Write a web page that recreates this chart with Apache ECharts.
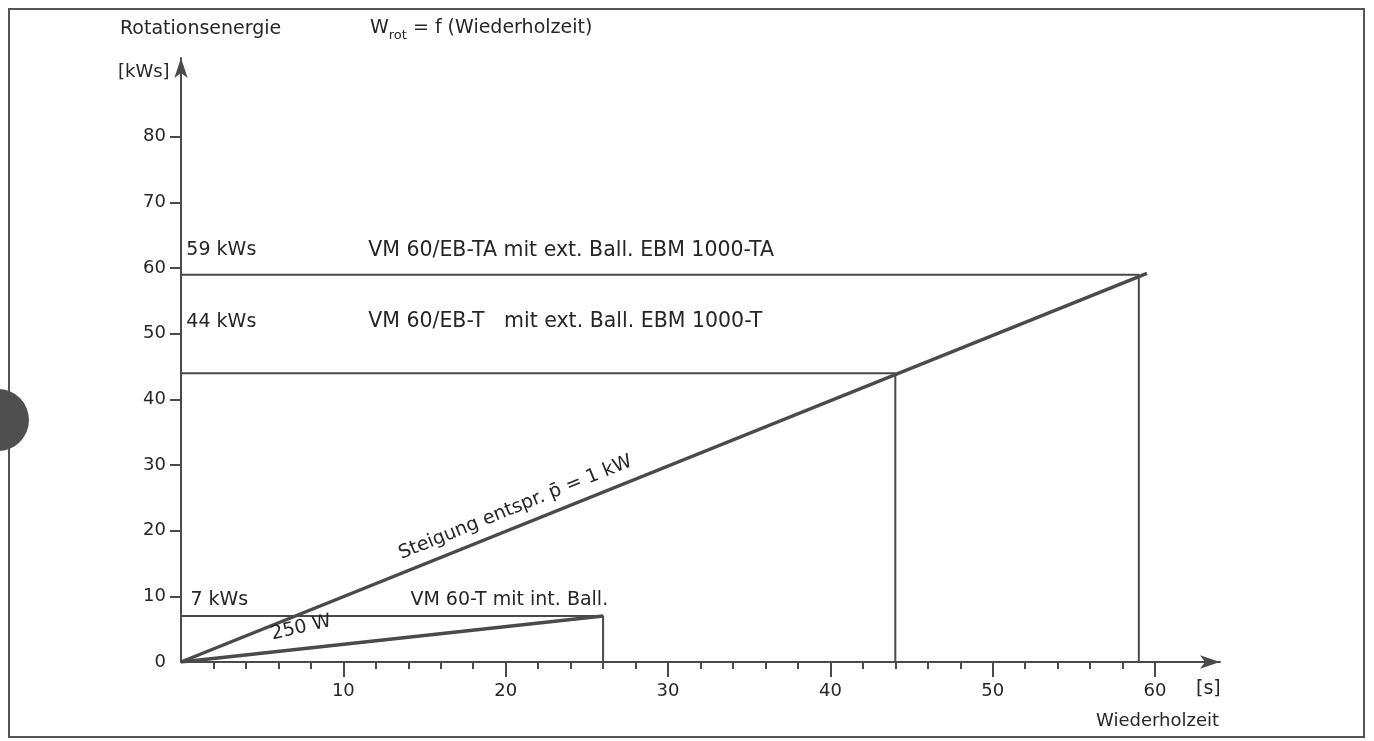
<!DOCTYPE html>
<html>
<head>
<meta charset="utf-8">
<script src="https://cdn.jsdelivr.net/npm/echarts@6/dist/echarts.min.js"></script>
<style>
html,body{margin:0;padding:0;background:#fff;}
#chart{width:1374px;height:741px;}
</style>
</head>
<body>
<div id="chart"></div>
<script>
// ---- data ----
const xTickValues = [10, 20, 30, 40, 50, 60];
const xMinorTickValues = [2, 4, 6, 8, 12, 14, 16, 18, 22, 24, 26, 28, 32, 34, 36, 38, 42, 44, 46, 48, 52, 54, 56, 58];
const yTickValues = [10, 20, 30, 40, 50, 60, 70, 80];
const yLabelValues = [0, 10, 20, 30, 40, 50, 60, 70, 80];

const levelEnergy = [59, 44, 7];          // kWs
const levelTime = [59, 44, 26];           // s
const levelLabels = ['59 kWs', '44 kWs', '7 kWs'];
const machineLabels = ['VM 60/EB-TA mit ext. Ball. EBM 1000-TA', 'VM 60/EB-T   mit ext. Ball. EBM 1000-T', 'VM 60-T mit int. Ball.'];

const ramp1kW = [[0, 0], [59.5, 59.2]];   // Steigung 1 kW
const ramp250W = [[0, 0], [26, 7]];       // 250 W

const rampLabels = ['Steigung entspr. p\u0304 = 1 kW', '250 W'];

// ---- styling ----
const LINE = '#4a4a4a';
const TXT = '#262626';
const FONT = 'DejaVu Sans';

const chart = echarts.init(document.getElementById('chart'));

const levelSeries = levelEnergy.map((e, i) => ({
  type: 'line',
  data: [[0, e], [levelTime[i], e], [levelTime[i], 0]],
  symbol: 'none',
  lineStyle: { color: LINE, width: 2 },
  silent: true,
  z: 3
}));

// annotation label anchors (positions in data units)
const levelLabelPos = [[0.3, 62.7], [0.3, 51.8], [0.55, 9.5]];
const machineLabelPos = [[11.5, 62.7], [11.5, 51.8], [14.1, 9.5]];
const machineFontSize = [20.5, 20.5, 19];

const annData = [];
levelLabels.forEach((t, i) => annData.push({ value: levelLabelPos[i], name: t, label: { position: 'right', distance: 0 } }));
machineLabels.forEach((t, i) => annData.push({ value: machineLabelPos[i], name: t, label: { position: 'right', distance: 0, fontSize: machineFontSize[i] } }));
annData.push({ value: [20.6, 23.5], name: rampLabels[0], label: { position: 'inside', rotate: 22 } });
annData.push({ value: [7.4, 5.2], name: rampLabels[1], label: { position: 'inside', rotate: 13 } });

const option = {
  animation: false,
  backgroundColor: '#ffffff',
  textStyle: { fontFamily: FONT },
  grid: { left: 181, right: 154, top: 58, bottom: 79 },
  xAxis: [
    {
      type: 'value', min: 0, max: 64,
      axisLine: { show: true, onZero: true, lineStyle: { color: LINE, width: 2 }, symbol: ['none', 'arrow'], symbolSize: [10, 20] },
      axisTick: { show: true, customValues: xTickValues, length: 15, lineStyle: { color: LINE, width: 2 } },
      axisLabel: { show: true, customValues: xTickValues, margin: 20, fontSize: 18, color: TXT, fontFamily: FONT },
      splitLine: { show: false }
    },
    {
      type: 'value', min: 0, max: 64, position: 'bottom',
      axisLine: { show: false },
      axisTick: { show: true, customValues: xMinorTickValues, length: 7, lineStyle: { color: LINE, width: 2 } },
      axisLabel: { show: false },
      splitLine: { show: false }
    }
  ],
  yAxis: {
    type: 'value', min: 0, max: 92,
    axisLine: { show: true, lineStyle: { color: LINE, width: 2 }, symbol: ['none', 'arrow'], symbolSize: [10, 20] },
    axisTick: { show: true, customValues: yTickValues, length: 11, lineStyle: { color: LINE, width: 2 } },
    axisLabel: { show: true, customValues: yLabelValues, margin: 15, fontSize: 18, color: TXT, fontFamily: FONT },
    splitLine: { show: false }
  },
  graphic: [
    { type: 'rect', shape: { x: 9, y: 9, width: 1355, height: 728 }, style: { fill: 'none', stroke: '#555', lineWidth: 2 }, z: 0 },
    { type: 'circle', shape: { cx: -2, cy: 420, r: 31 }, style: { fill: '#4f4f4f' }, z: 1 },
    { type: 'text', left: 120, top: 20, style: { text: 'Rotationsenergie', fontSize: 19, fill: TXT, fontFamily: FONT } },
    { type: 'text', left: 118, top: 63, style: { text: '[kWs]', fontSize: 18, fill: TXT, fontFamily: FONT } },
    {
      type: 'text', left: 370, top: 19,
      style: {
        text: '{a|W}{s|rot}{a| = f (Wiederholzeit)}',
        fill: TXT, fontFamily: FONT,
        rich: {
          a: { fontSize: 19, lineHeight: 28, verticalAlign: 'middle', fill: TXT, fontFamily: FONT },
          s: { fontSize: 13, lineHeight: 28, verticalAlign: 'bottom', fill: TXT, fontFamily: FONT }
        }
      }
    },
    { type: 'text', left: 1196, top: 680, style: { text: '[s]', fontSize: 19, fill: TXT, fontFamily: FONT } },
    { type: 'text', left: 1096, top: 712, style: { text: 'Wiederholzeit', fontSize: 18, fill: TXT, fontFamily: FONT } }
  ],
  series: [
    ...levelSeries,
    { type: 'line', data: ramp1kW, symbol: 'none', lineStyle: { color: LINE, width: 3.5 }, silent: true, z: 4 },
    { type: 'line', data: ramp250W, symbol: 'none', lineStyle: { color: LINE, width: 3.5 }, silent: true, z: 4 },
    {
      type: 'scatter', data: annData, symbolSize: 1, itemStyle: { color: 'rgba(0,0,0,0)', opacity: 1 }, silent: true, z: 5,
      label: { show: true, formatter: p => p.name, fontSize: 19, color: TXT, fontFamily: FONT, opacity: 1 }
    }
  ]
};
chart.setOption(option);
</script>
</body>
</html>
